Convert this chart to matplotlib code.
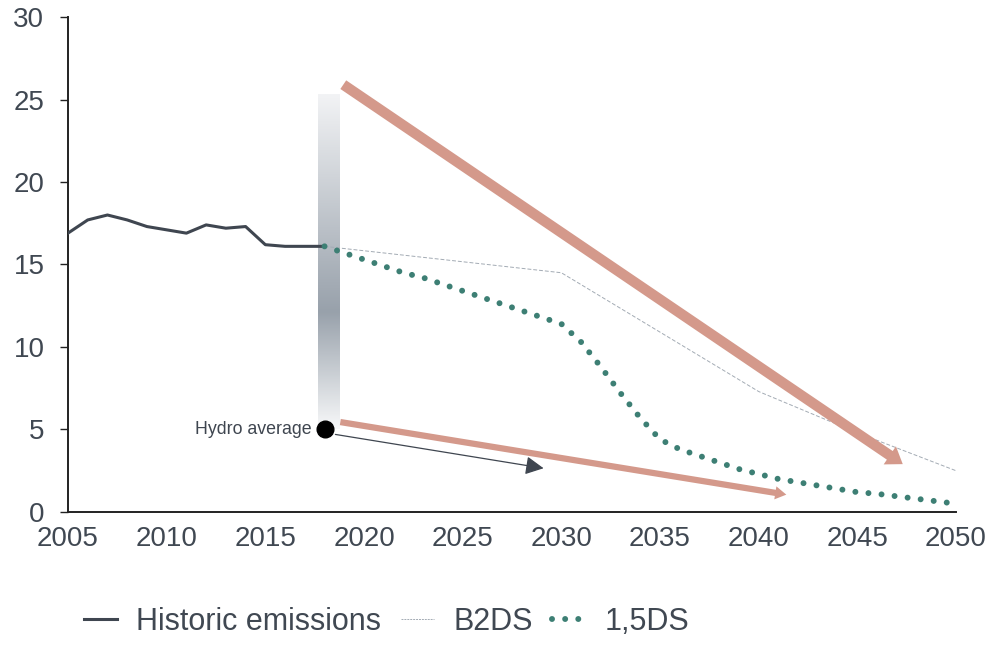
import numpy as np
import matplotlib
matplotlib.use("Agg")
import matplotlib.pyplot as plt
from matplotlib.colors import LinearSegmentedColormap
from matplotlib.lines import Line2D

plt.rcParams["font.family"] = ["Liberation Sans", "DejaVu Sans"]

# --- data -------------------------------------------------------------
hist_years = list(range(2005, 2019))
hist_values = [16.9, 17.7, 18.0, 17.7, 17.3, 17.1, 16.9, 17.4, 17.2, 17.3,
               16.2, 16.1, 16.1, 16.1]

b2ds_years = [2018, 2030, 2035, 2040, 2045, 2050]
b2ds_values = [16.1, 14.5, 10.9, 7.3, 4.8, 2.5]

ds15_years = list(range(2018, 2051))
ds15_values = [16.1, 15.7, 15.3, 14.9, 14.5, 14.2, 13.8, 13.4, 13.0, 12.6,
               12.2, 11.8, 11.4, 10.3, 8.8, 7.2, 5.7, 4.4, 3.8, 3.4,
               3.0, 2.6, 2.3, 2.0, 1.8, 1.6, 1.4, 1.2, 1.1, 0.95,
               0.8, 0.65, 0.5]

hydro_year = 2018
hydro_value = 5.0

# range band above the hydro average (bottom, darkest, top)
band_years = (2017.68, 2018.75)
band_values = (5.0, 12.1, 25.3)

# trend arrows: (start year, start value, end year, end value)
upper_trend = (2018.95, 25.9, 2047.3, 2.9)
lower_trend = (2018.8, 5.45, 2041.4, 1.05)
hydro_trend = (2018.55, 4.7, 2029.1, 2.65)

x_ticks = list(range(2005, 2051, 5))
y_ticks = list(range(0, 31, 5))

# --- style ------------------------------------------------------------
dark = "#3f4650"
teal = "#3d7f74"
pink = "#d4998b"
b2ds_col = "#a3abb4"
text_col = "#404852"
dotted = (0, (0.001, 2.2))

fig = plt.figure(figsize=(9.94, 6.47), dpi=100)
ax = fig.add_axes([0.0684, 0.2087, 0.8934, 0.765])

ax.set_xlim(2005, 2050)
ax.set_ylim(0, 30)

# gradient band
lo, mid, hi = band_values
ys = np.linspace(lo, hi, 400)
frac = np.where(ys <= mid, (ys - lo) / (mid - lo), (hi - ys) / (hi - mid))
cmap_low = LinearSegmentedColormap.from_list("lo", ["#f7f8f9", "#98a1ab"])
cmap_high = LinearSegmentedColormap.from_list("hi", ["#f2f3f5", "#98a1ab"])
cols = np.where((ys <= mid)[:, None], cmap_low(frac), cmap_high(frac))
ax.imshow(cols[:, None, :], extent=[band_years[0], band_years[1], lo, hi],
          origin="lower", aspect="auto", zorder=1, interpolation="bilinear")

# series
ax.plot(hist_years, hist_values, color=dark, lw=2.2, zorder=4,
        solid_joinstyle="round")
ax.plot(b2ds_years, b2ds_values, color=b2ds_col, lw=0.7,
        dashes=(4, 2), zorder=3)
ax.plot(ds15_years, ds15_values, color=teal, lw=4.3, linestyle=dotted,
        dash_capstyle="round", zorder=5, clip_on=False)

# hydro average
ax.plot([hydro_year], [hydro_value], "o", color="black", ms=12, zorder=7)
ax.text(hydro_year - 0.65, hydro_value, "Hydro average", ha="right",
        va="center", fontsize=12.8, color=dark, zorder=7)

# arrows
def trend_arrow(seg, style, color, scale, z):
    x0, y0, x1, y1 = seg
    ax.annotate("", xy=(x1, y1), xytext=(x0, y0),
                arrowprops=dict(arrowstyle=style, color=color, lw=0,
                                mutation_scale=scale, shrinkA=0, shrinkB=0),
                zorder=z)

trend_arrow(upper_trend, "simple,head_length=0.75,head_width=1.05,tail_width=0.5",
            pink, 15, 6)
trend_arrow(lower_trend, "simple,head_length=0.8,head_width=0.95,tail_width=0.45",
            pink, 10, 6)
ax.annotate("", xy=hydro_trend[2:], xytext=hydro_trend[:2],
            arrowprops=dict(arrowstyle="-|>,head_length=0.55,head_width=0.28",
                            color=dark, lw=0.9, mutation_scale=20,
                            shrinkA=0, shrinkB=0), zorder=6)

# axes
for s in ("top", "right"):
    ax.spines[s].set_visible(False)
for s in ("left", "bottom"):
    ax.spines[s].set_color("#222222")
    ax.spines[s].set_linewidth(1.4)
ax.spines["bottom"].set_zorder(8)

ax.set_xticks(x_ticks)
ax.set_yticks(y_ticks)
ax.tick_params(axis="x", length=0, pad=10, labelsize=20, labelcolor=text_col)
ax.tick_params(axis="y", length=6, width=1.0, color="#222222", pad=11,
               labelsize=20, labelcolor=text_col)

# legend
handles = [
    Line2D([], [], color=dark, lw=2.2),
    Line2D([], [], color=b2ds_col, lw=0.7, dashes=(2, 1)),
    Line2D([], [], color=teal, lw=4.3, linestyle=dotted,
           dash_capstyle="round"),
]
fig.legend(handles, ["Historic emissions", "B2DS", "1,5DS"], loc="center",
           bbox_to_anchor=(0.389, 0.039), ncol=3, frameon=False, fontsize=22,
           handlelength=1.08, handletextpad=0.62, columnspacing=0.65,
           labelcolor=text_col)

fig.savefig("out.png", dpi=100)
